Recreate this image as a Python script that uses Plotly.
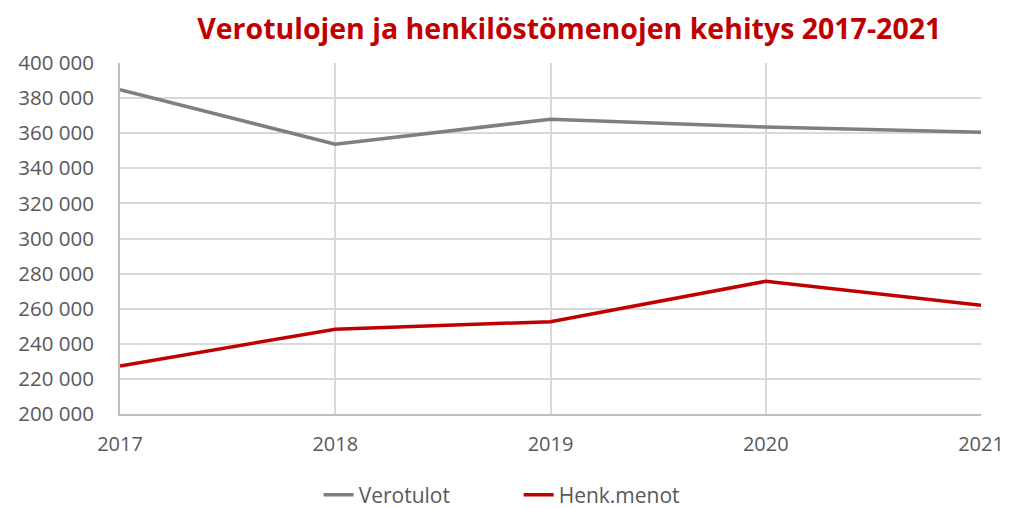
import plotly.graph_objects as go

years = [2017, 2018, 2019, 2020, 2021]
verotulot = [384800, 353700, 368000, 363500, 360500]
henk_menot = [227400, 248300, 252600, 275600, 262000]
y_ticks = [200000, 220000, 240000, 260000, 280000, 300000, 320000, 340000, 360000, 380000, 400000]
y_tick_labels = ["200 000", "220 000", "240 000", "260 000", "280 000", "300 000",
                 "320 000", "340 000", "360 000", "380 000", "400 000"]
title_text = "Verotulojen ja henkilöstömenojen kehitys 2017-2021"

fig = go.Figure()
fig.add_trace(go.Scatter(x=years, y=verotulot, mode="lines", name="Verotulot",
                         line=dict(color="#7f7f7f", width=3.5)))
fig.add_trace(go.Scatter(x=years, y=henk_menot, mode="lines", name="Henk.menot",
                         line=dict(color="#c00000", width=3.5)))

fig.update_layout(
    width=1004, height=500,
    margin=dict(l=112, r=31, t=55, b=94, autoexpand=False),
    paper_bgcolor="white", plot_bgcolor="white",
    title=dict(text=title_text, x=0.559, xanchor="center", y=0.958, yanchor="middle",
               font=dict(family="Open Sans", size=28.5, color="#c00000", weight="bold")),
    font=dict(family="Open Sans", color="#595959", size=20),
    legend=dict(orientation="h", x=0.463, xanchor="center", y=-0.231, yanchor="middle",
                font=dict(size=21, color="#595959"), entrywidth=155),
    showlegend=True,
)
fig.update_xaxes(range=[2017, 2021], tickvals=years, ticktext=[str(y) for y in years],
                 showgrid=True, gridcolor="#d9d9d9", gridwidth=2,
                 showline=True, linecolor="#bfbfbf", linewidth=2,
                 zeroline=False, ticks="", ticklabelstandoff=11,
                 tickfont=dict(size=20, color="#595959"))
fig.update_yaxes(range=[200000, 400000], tickvals=y_ticks, ticktext=y_tick_labels,
                 showgrid=True, gridcolor="#d9d9d9", gridwidth=2,
                 showline=True, linecolor="#bfbfbf", linewidth=2,
                 zeroline=False, ticks="", ticklabelstandoff=20,
                 tickfont=dict(size=20.5, color="#595959"))

fig.write_html("out.html")
